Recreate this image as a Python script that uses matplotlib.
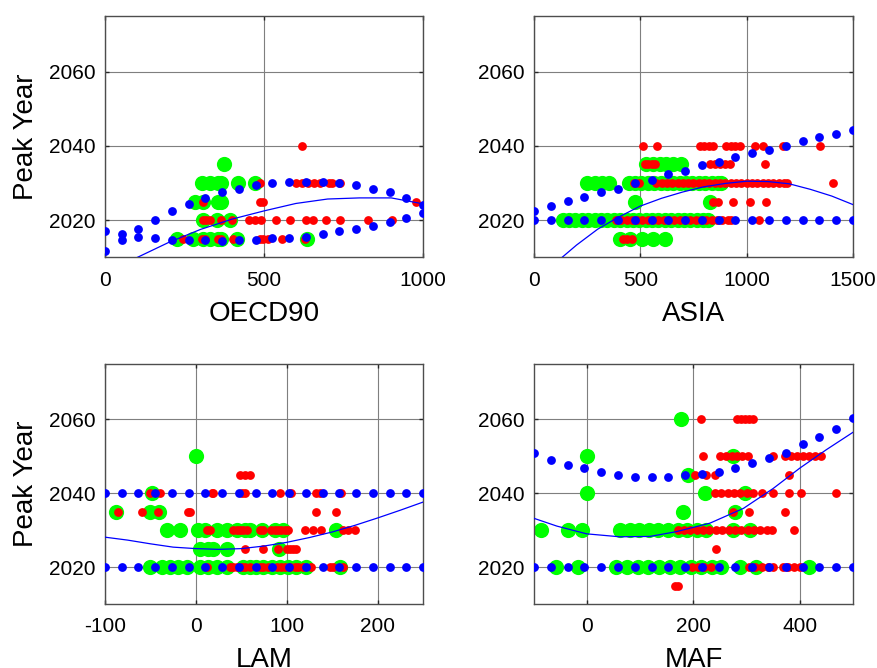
import matplotlib
matplotlib.use('Agg')
import matplotlib.pyplot as plt

plt.rcParams['font.family'] = ['Liberation Sans', 'DejaVu Sans']
plt.rcParams['axes.unicode_minus'] = False

# ---------------- OECD90 ----------------
oecd_blue_x = [0, 52.6, 105.3, 157.9, 210.5, 263.2, 315.8, 368.4, 421.1, 473.7,
               526.3, 578.9, 631.6, 684.2, 736.8, 789.5, 842.1, 894.7, 947.4, 1000]
oecd_blue_hi = [2017.1, 2016.2, 2017.5, 2020.0, 2022.4, 2024.4, 2026.1, 2027.5, 2028.5, 2029.6,
                2030.0, 2030.4, 2030.4, 2030.4, 2030.0, 2029.4, 2028.5, 2027.5, 2026.1, 2024.2]
oecd_blue_lo = [2011.8, 2014.7, 2015.5, 2015.1, 2014.7, 2014.7, 2014.7, 2014.4, 2014.7, 2014.7,
                2015.3, 2015.3, 2015.5, 2016.2, 2017.1, 2017.5, 2018.5, 2019.5, 2020.7, 2021.8]
oecd_green = [(374, 2035), (304, 2030), (330, 2030), (356, 2030), (366, 2030), (419, 2030), (471, 2030),
              (283, 2025), (309, 2025), (356, 2025), (366, 2025),
              (309, 2020), (351, 2020), (393, 2020),
              (225, 2015), (277, 2015), (309, 2015), (330, 2015), (356, 2015), (366, 2015),
              (414, 2015), (634, 2015)]
oecd_red = [(621, 2040),
            (487, 2030), (602, 2030), (618, 2030), (639, 2030), (657, 2030), (675, 2030),
            (705, 2030), (715, 2030), (738, 2030),
            (309, 2025), (487, 2025), (497, 2025), (979, 2025),
            (309, 2020), (319, 2020), (330, 2020), (366, 2020), (398, 2020), (453, 2020),
            (471, 2020), (492, 2020), (539, 2020), (581, 2020), (631, 2020), (654, 2020),
            (696, 2020), (740, 2020), (827, 2020), (901, 2020),
            (246, 2015), (304, 2015), (314, 2015), (356, 2015), (366, 2015), (403, 2015),
            (487, 2015), (497, 2015), (513, 2015), (555, 2015), (628, 2015)]
oecd_fit_x = [90, 200, 300, 400, 500, 600, 700, 800, 900, 1000]
oecd_fit_y = [2009.5, 2014.0, 2017.5, 2020.3, 2022.5, 2024.5, 2025.7, 2026.0, 2026.0, 2024.4]

# ---------------- ASIA ----------------
asia_blue_x = [0, 78.9, 157.9, 236.8, 315.8, 394.7, 473.7, 552.6, 631.6, 710.5,
               789.5, 868.4, 947.4, 1026.3, 1105.3, 1184.2, 1263.2, 1342.1, 1421.1, 1500]
asia_blue_hi = [2022.4, 2023.7, 2025.1, 2026.2, 2027.5, 2028.5, 2030.0, 2030.9, 2032.4, 2033.3,
                2034.8, 2035.7, 2037.1, 2038.0, 2038.9, 2040.0, 2041.4, 2042.4, 2043.3, 2044.4]
asia_blue_lo = [2020] * 20
asia_green = [(529, 2035), (561, 2035), (592, 2035), (623, 2035), (655, 2035), (690, 2035),
              (250, 2030), (285, 2030), (320, 2030), (355, 2030),
              (445, 2030), (475, 2030), (505, 2030), (535, 2030), (565, 2030), (595, 2030),
              (625, 2030), (655, 2030), (685, 2030), (715, 2030), (745, 2030), (775, 2030),
              (805, 2030), (835, 2030), (865, 2030), (880, 2030),
              (474, 2025), (827, 2025),
              (135, 2020), (165, 2020), (195, 2020), (225, 2020), (255, 2020), (285, 2020),
              (315, 2020), (345, 2020), (375, 2020), (405, 2020), (435, 2020), (465, 2020),
              (495, 2020), (525, 2020), (555, 2020), (585, 2020), (615, 2020), (645, 2020),
              (675, 2020), (705, 2020), (735, 2020), (765, 2020), (795, 2020), (820, 2020),
              (404, 2015), (451, 2015), (506, 2015), (561, 2015), (615, 2015)]
asia_red = [(511, 2040), (577, 2040), (780, 2040), (801, 2040), (823, 2040), (843, 2040),
            (905, 2040), (926, 2040), (947, 2040), (968, 2040), (1040, 2040), (1079, 2040),
            (1169, 2040), (1344, 2040),
            (522, 2035), (537, 2035), (553, 2035), (569, 2035), (827, 2035), (850, 2035),
            (874, 2035), (899, 2035), (921, 2035), (1086, 2035),
            (470, 2030), (495, 2030), (575, 2030), (600, 2030), (625, 2030), (650, 2030),
            (675, 2030), (700, 2030), (725, 2030), (750, 2030), (775, 2030), (800, 2030),
            (825, 2030), (850, 2030), (875, 2030), (900, 2030), (925, 2030), (950, 2030),
            (975, 2030), (1000, 2030), (1025, 2030), (1050, 2030), (1075, 2030), (1100, 2030),
            (1125, 2030), (1150, 2030), (1175, 2030), (1190, 2030), (1406, 2030),
            (842, 2025), (866, 2025), (936, 2025), (1015, 2025), (1093, 2025),
            (385, 2020), (410, 2020), (435, 2020), (460, 2020), (485, 2020), (510, 2020),
            (535, 2020), (560, 2020), (585, 2020), (610, 2020), (635, 2020), (660, 2020),
            (685, 2020), (710, 2020), (735, 2020), (760, 2020), (785, 2020), (810, 2020),
            (835, 2020), (860, 2020), (885, 2020), (910, 2020), (925, 2020), (1058, 2020),
            (420, 2015), (436, 2015), (459, 2015)]
asia_fit_x = [120, 200, 300, 400, 500, 600, 700, 800, 900, 1000, 1100, 1200, 1300, 1400, 1500]
asia_fit_y = [2009.4, 2013.3, 2017.6, 2020.9, 2023.8, 2025.9, 2027.6, 2029.0, 2029.9, 2030.5,
              2030.4, 2029.8, 2028.3, 2026.5, 2024.2]

# ---------------- LAM ----------------
lam_blue_x = [-100, -81.6, -63.2, -44.7, -26.3, -7.9, 10.5, 28.9, 47.4, 65.8,
              84.2, 102.6, 121.1, 139.5, 157.9, 176.3, 194.7, 213.2, 231.6, 250]
lam_blue_hi = [2040] * 20
lam_blue_lo = [2020] * 20
lam_green = [(0, 2050), (-48.7, 2040),
             (-88, 2035), (-51, 2035), (-41, 2035),
             (-32.2, 2030), (-17.5, 2030), (2.6, 2030), (10, 2030), (22.8, 2030), (33.8, 2030),
             (44.8, 2030), (54, 2030), (59.5, 2030), (72.3, 2030), (87, 2030), (96, 2030),
             (154.7, 2030),
             (4.5, 2025), (13.6, 2025), (19, 2025), (33.8, 2025), (92, 2025),
             (-50.5, 2020), (-37.7, 2020), (-28.5, 2020), (-19.4, 2020), (-10.2, 2020),
             (4.5, 2020), (13.6, 2020), (22.8, 2020), (33.8, 2020), (52, 2020), (59.4, 2020),
             (66.7, 2020), (74, 2020), (83.3, 2020), (92.4, 2020), (101.6, 2020),
             (110.7, 2020), (121.7, 2020), (158.4, 2020)]
lam_red = [(48.4, 2045), (54, 2045), (59.5, 2045),
           (-50.5, 2040), (-39.5, 2040), (17.3, 2040), (19.1, 2040), (50.3, 2040), (54, 2040),
           (92.4, 2040), (105.2, 2040), (132.7, 2040), (136.4, 2040), (160.2, 2040),
           (-86, 2035), (-59.7, 2035), (-41.4, 2035), (-8.4, 2035), (-6.6, 2035),
           (132.7, 2035), (154, 2035),
           (11.8, 2030), (15.5, 2030), (41, 2030), (44.8, 2030), (48.4, 2030), (52, 2030),
           (55.8, 2030), (70.4, 2030), (74, 2030), (83, 2030), (86.9, 2030), (90.6, 2030),
           (94.2, 2030), (97.9, 2030), (101.6, 2030), (120, 2030), (129, 2030), (138, 2030),
           (162, 2030), (167.5, 2030), (175, 2030),
           (54, 2025), (74, 2025), (90, 2025), (100, 2025), (103.4, 2025), (107, 2025),
           (110.7, 2025),
           (11.8, 2020), (37.4, 2020), (41.1, 2020), (44.8, 2020), (50.3, 2020), (54, 2020),
           (59.4, 2020), (70.4, 2020), (74, 2020), (79.6, 2020), (88.8, 2020), (94.2, 2020),
           (97.9, 2020), (103.4, 2020), (108.9, 2020), (112.6, 2020), (118.1, 2020),
           (127.2, 2020), (147.4, 2020), (151, 2020), (162, 2020)]
lam_fit_x = [-100, -75, -50, -25, 0, 25, 50, 75, 100, 125, 150, 175, 200, 225, 250]
lam_fit_y = [2028.1, 2027.3, 2026.3, 2025.4, 2025.0, 2024.8, 2025.0, 2025.7, 2026.7, 2028.0,
             2029.5, 2031.3, 2033.3, 2035.4, 2037.6]

# ---------------- MAF ----------------
maf_blue_x = [-100, -68.4, -36.8, -5.3, 26.3, 57.9, 89.5, 121.1, 152.6, 184.2,
              215.8, 247.4, 278.9, 310.5, 342.1, 373.7, 405.3, 436.8, 468.4, 500]
maf_blue_hi = [2050.9, 2049.1, 2047.7, 2046.7, 2045.8, 2044.9, 2044.4, 2044.4, 2044.4, 2044.9,
               2045.3, 2045.8, 2046.7, 2048.2, 2049.5, 2050.9, 2053.3, 2055.2, 2057.4, 2060.4]
maf_blue_lo = [2020] * 20
maf_green = [(176, 2060), (-1, 2050), (275, 2050), (190, 2045),
             (-1, 2040), (222, 2040), (297, 2040), (180, 2035), (278, 2035),
             (-86, 2030), (-35.5, 2030), (-10.3, 2030), (62, 2030), (80, 2030), (98, 2030),
             (116, 2030), (134, 2030), (152, 2030), (170, 2030), (188, 2030), (206, 2030),
             (224, 2030), (275, 2030), (306, 2030),
             (-59, 2020), (-17, 2020), (55, 2020), (75, 2020), (95, 2020), (115, 2020),
             (135, 2020), (155, 2020), (175, 2020), (195, 2020), (215, 2020), (235, 2020),
             (252, 2020), (287, 2020), (318, 2020), (418, 2020)]
maf_red = [(215, 2060), (281, 2060), (290, 2060), (297, 2060), (305, 2060), (312, 2060),
           (218, 2050), (249, 2050), (262, 2050), (272, 2050), (282, 2050), (292, 2050),
           (303, 2050), (350, 2050), (372, 2050), (384, 2050), (395, 2050), (406, 2050),
           (417, 2050), (428, 2050), (440, 2050),
           (203, 2045), (223, 2045), (240, 2045), (380, 2045),
           (240, 2040), (252, 2040), (264, 2040), (276, 2040), (288, 2040), (300, 2040),
           (312, 2040), (328, 2040), (350, 2040), (380, 2040), (402, 2040), (468, 2040),
           (275, 2035), (304, 2035), (373, 2035),
           (170, 2030), (182, 2030), (194, 2030), (206, 2030), (218, 2030), (230, 2030),
           (242, 2030), (254, 2030), (266, 2030), (278, 2030), (290, 2030), (302, 2030),
           (314, 2030), (326, 2030), (338, 2030), (348, 2030), (390, 2030),
           (242, 2025),
           (197, 2020), (208, 2020), (220, 2020), (232, 2020), (305, 2020), (316, 2020),
           (328, 2020), (340, 2020), (350, 2020), (368, 2020), (378, 2020), (390, 2020),
           (400, 2020),
           (165, 2015), (171, 2015)]
maf_fit_x = [-100, -57, -1, 61.5, 118, 168, 231, 294, 350, 400, 450, 500]
maf_fit_y = [2033.2, 2031.1, 2029.0, 2028.2, 2028.3, 2029.6, 2031.9, 2035.9, 2041.3, 2046.8,
             2051.8, 2056.5]

panels = [
    ('OECD90', oecd_blue_x, oecd_blue_hi, oecd_blue_lo, oecd_green, oecd_red,
     oecd_fit_x, oecd_fit_y, (0, 1000), [0, 500, 1000]),
    ('ASIA', asia_blue_x, asia_blue_hi, asia_blue_lo, asia_green, asia_red,
     asia_fit_x, asia_fit_y, (0, 1500), [0, 500, 1000, 1500]),
    ('LAM', lam_blue_x, lam_blue_hi, lam_blue_lo, lam_green, lam_red,
     lam_fit_x, lam_fit_y, (-100, 250), [-100, 0, 100, 200]),
    ('MAF', maf_blue_x, maf_blue_hi, maf_blue_lo, maf_green, maf_red,
     maf_fit_x, maf_fit_y, (-100, 500), [0, 200, 400]),
]

# axes boxes in figure fractions (left, bottom, width, height)
boxes = [(0.1196, 0.6148, 0.3622, 0.3613), (0.6082, 0.6148, 0.3633, 0.3613),
         (0.1196, 0.0958, 0.3622, 0.3593), (0.6082, 0.0958, 0.3633, 0.3593)]

fig = plt.figure(figsize=(8.78, 6.68), dpi=100)
for i, (name, bx, bhi, blo, green, red, fx, fy, xlim, xt) in enumerate(panels):
    ax = fig.add_axes(boxes[i])
    gx, gy = zip(*green)
    rx, ry = zip(*red)
    ax.scatter(gx, gy, s=120, color=(0, 1, 0), linewidths=0, zorder=2)
    ax.scatter(rx, ry, s=40, color=(1, 0, 0), linewidths=0, zorder=3)
    ax.scatter(bx, bhi, s=40, color=(0, 0, 1), linewidths=0, zorder=4)
    ax.scatter(bx, blo, s=40, color=(0, 0, 1), linewidths=0, zorder=4)
    ax.plot(fx, fy, color=(0, 0, 1), lw=0.9, zorder=5)
    ax.set_xlim(*xlim)
    ax.set_ylim(2010, 2075)
    ax.set_xticks(xt)
    ax.set_yticks([2020, 2040, 2060])
    ax.grid(True, color='#7f7f7f', lw=0.8, ls='-')
    ax.set_axisbelow(True)
    ax.tick_params(direction='in', top=True, right=True, length=3, width=1,
                   labelsize=15, color='#262626')
    ax.tick_params(axis='x', pad=9.5)
    ax.tick_params(axis='y', pad=6.5)
    for sp in ax.spines.values():
        sp.set_color('#4d4d4d')
        sp.set_linewidth(1)
    ax.set_xlabel(name, fontsize=20, labelpad=8)
    if i % 2 == 0:
        ax.set_ylabel('Peak Year', fontsize=20, labelpad=7.5)

fig.savefig('out.png', dpi=100)
